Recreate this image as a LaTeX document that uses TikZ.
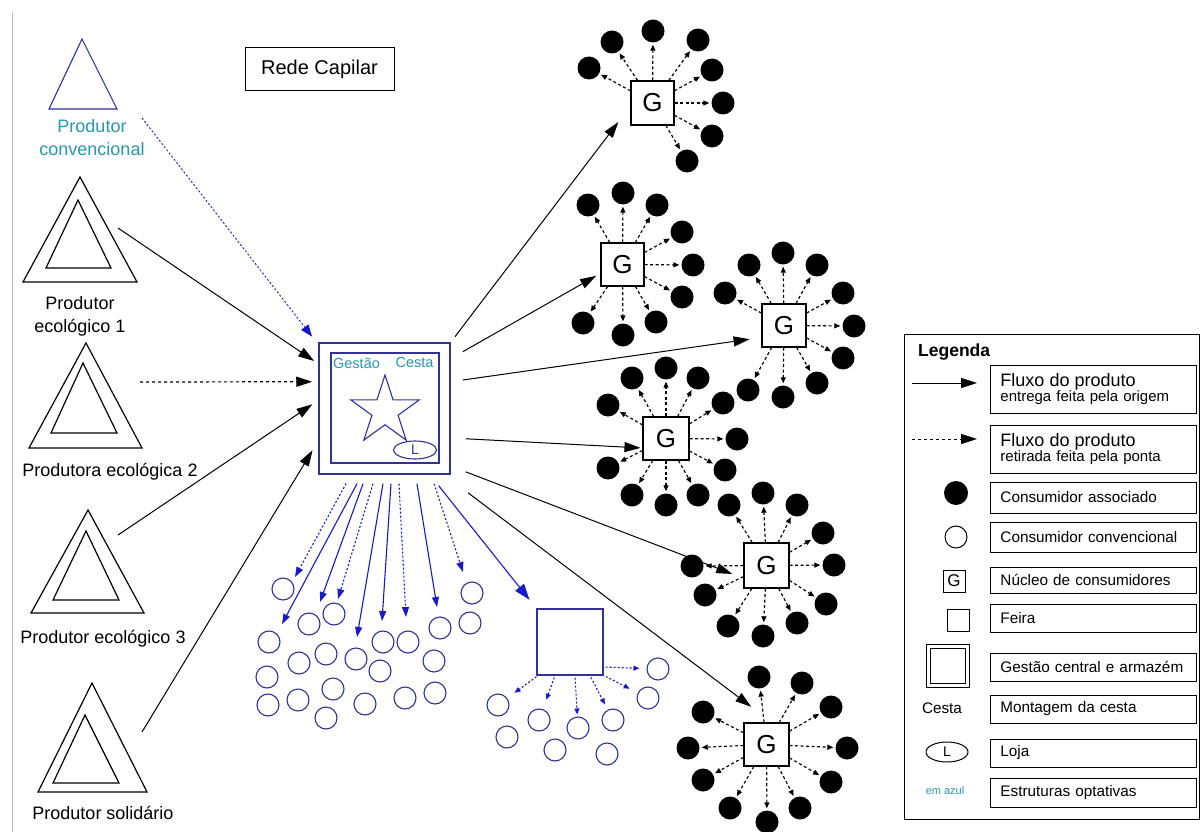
\documentclass[tikz,border=0pt]{standalone}
\usepackage{fontspec}
\setmainfont{Liberation Sans}
\usetikzlibrary{arrows.meta,shapes.geometric}
\definecolor{navyline}{RGB}{50,50,150}
\definecolor{flowblue}{RGB}{25,25,200}
\definecolor{labelteal}{RGB}{40,150,180}
\newcommand\fsz[1]{\fontsize{#1}{#1}\selectfont}

\begin{document}
\begin{tikzpicture}[x=1pt,y=-1pt,
  producer/.style={line width=1.2pt, line join=miter},
  plabel/.style={font=\fontsize{18}{23}\selectfont, align=center, inner sep=0},
  delivery/.style={line width=1pt, -{Triangle[length=16pt,width=10pt]}},
  pickup/.style={delivery, line width=1.2pt, dash pattern=on 3pt off 3pt},
  optdelivery/.style={draw=flowblue, line width=1.1pt, -{Triangle[length=10pt,width=7pt]}},
  optpickup/.style={optdelivery, dash pattern=on 2pt off 2pt},
  nucleus/.style={draw, line width=1.1pt, inner sep=0, font=\fsz{26}},
  member/.style={circle, fill=black, minimum size=23pt, inner sep=0},
  buyer/.style={circle, draw=navyline, line width=1.1pt, minimum size=22pt, inner sep=0},
  gpick/.style={line width=1.15pt, dash pattern=on 3pt off 2.5pt, -{Triangle[length=6pt,width=5pt]}, shorten >=2pt},
  fpick/.style={draw=flowblue, line width=1.1pt, dash pattern=on 2pt off 2pt, -{Triangle[length=6pt,width=5pt]}, shorten <=2pt},
  legbox/.style={draw, line width=0.9pt, anchor=west, minimum width=206pt, text width=186pt, inner xsep=10pt, inner ysep=0pt, align=left, font=\fsz{15.3}},
]
% canvas
\fill[white] (0,0) rectangle (1202,832);
\useasboundingbox (0,0) rectangle (1202,832);
\draw[black!25, line width=1pt] (12,12) -- (12,832);

% title
\node[draw, line width=1pt, minimum width=149pt, minimum height=43pt, inner sep=0, font=\fsz{20}] (title) at (319.5,69.5) {Rede Capilar};

% producers
\draw[producer, draw=navyline, line width=1.1pt] (82,39) -- (117,109) -- (49,109) -- cycle;
\node[plabel, text=labelteal] (lconv) at (92,138) {Produtor\\convencional};

\draw[producer] (80,177) -- (137,282) -- (23,282) -- cycle;
\draw[producer] (78,200) -- (111,268) -- (46,268) -- cycle;
\node[plabel] (leco1) at (80,316) {Produtor\\ecológico 1};

\draw[producer] (86,343) -- (142,448) -- (29,448) -- cycle;
\draw[producer] (83,363) -- (117,433) -- (51,433) -- cycle;
\node[plabel] (leco2) at (110,472) {Produtora ecológica 2};

\draw[producer] (88,510) -- (144,613) -- (31,613) -- cycle;
\draw[producer] (86,531) -- (119,600) -- (53,600) -- cycle;
\node[plabel] (leco3) at (103,639) {Produtor ecológico 3};

\draw[producer] (92,683) -- (147,792) -- (38,792) -- cycle;
\draw[producer] (85,715) -- (119,783) -- (53,783) -- cycle;
\node[plabel] (lsol) at (103,813) {Produtor solidário};

% outlets of the producers
\coordinate (convout) at (142,118);
\coordinate (eco1out) at (118,228);
\coordinate (eco2pick) at (140,382);
\coordinate (eco2out) at (118,535);
\coordinate (solout) at (142,732);

% central management and warehouse
\node[draw=navyline, line width=1.5pt, minimum size=131pt, inner sep=0] (hub) at (384.5,408.5) {};
\node[draw=navyline, line width=1.3pt, minimum width=108pt, minimum height=110pt, inner sep=0] (hubin) at (385,408) {};
\node[text=labelteal, font=\fsz{14.5}, inner sep=0] (lgest) at (356.5,363) {Gestão};
\node[text=labelteal, font=\fsz{14.5}, inner sep=0] (lcesta) at (414.5,363) {Cesta};
\node[star, star points=5, star point ratio=2.618, draw=navyline, line width=1.1pt, minimum size=72pt, inner sep=0] (basket) at (385,411) {};
\node[ellipse, draw=navyline, line width=1.1pt, minimum width=43pt, minimum height=18pt, inner sep=0, text=navyline, font=\fsz{14}] (shop) at (415,450) {L};

% inflow
\draw[optpickup, line width=0.9pt, -{Triangle[length=12pt,width=9pt]}, shorten >=10pt] (convout) -- (hub.136);
\draw[delivery, shorten >=5pt] (eco1out) -- (hub.146);
\draw[pickup, shorten >=6pt] (eco2pick) -- (hub.158);
\draw[delivery, shorten >=7pt] (eco2out) -- (hub.173);
\draw[delivery, shorten >=11pt] (solout) -- (hub.206);

% consumer nuclei
\node[nucleus, minimum width=43pt, minimum height=44pt] (g1) at (652.5,103) {G};
\node[nucleus, minimum width=43pt, minimum height=43pt] (g2) at (622.5,264.5) {G};
\node[nucleus, minimum width=44pt, minimum height=43pt] (g3) at (784,325.5) {G};
\node[nucleus, minimum width=46pt, minimum height=43pt] (g4) at (666,438.5) {G};
\node[nucleus, minimum width=45pt, minimum height=45pt] (g5) at (766.5,565.5) {G};
\node[nucleus, minimum width=45pt, minimum height=43pt] (g6) at (766.5,744.5) {G};

\foreach \x/\y [count=\i] in {612/42,653/31,698/40,712/70,723/103,712/136,687/161,589/68}
  {\node[member] (g1d\i) at (\x,\y) {}; \draw[gpick] (g1) -- (g1d\i);}
\foreach \x/\y [count=\i] in {588/205,623/193,657/205,682/232,693/265,682/297,656/322,623/335,583/323}
  {\node[member] (g2d\i) at (\x,\y) {}; \draw[gpick] (g2) -- (g2d\i);}
\foreach \x/\y [count=\i] in {749/265,783/253,817/265,843/293,854/326,843/358,817/383,783/397,748/390,725/293}
  {\node[member] (g3d\i) at (\x,\y) {}; \draw[gpick] (g3) -- (g3d\i);}
\foreach \x/\y [count=\i] in {666/368,632/378,698/378,608/405,723/403,737/439,725/470,698/495,666/505,632/495,608/468}
  {\node[member] (g4d\i) at (\x,\y) {}; \draw[gpick] (g4) -- (g4d\i);}
\foreach \x/\y [count=\i] in {763/493,797/505,823/533,834/565,826/604,797/623,763/636,728/626,705/595,692/566,729/505}
  {\node[member] (g5d\i) at (\x,\y) {}; \draw[gpick] (g5) -- (g5d\i);}
\foreach \x/\y [count=\i] in {759/677,802/683,831/707,847/748,831/782,800/808,767/822,730/808,703/780,688/748,703/712}
  {\node[member] (g6d\i) at (\x,\y) {}; \draw[gpick] (g6) -- (g6d\i);}

% outflow to the nuclei
\draw[delivery, shorten <=7pt, shorten >=20pt] (hub.45) -- (g1.188);
\draw[delivery, shorten <=14pt, shorten >=5pt] (hub.37) -- (g2.202);
\draw[delivery, shorten <=12pt, shorten >=12pt] (hub.22) -- (g3.208);
\draw[delivery, shorten <=15pt, shorten >=2pt] (hub.336) -- (g4.202);
\draw[delivery, shorten <=16pt, shorten >=12pt] (hub.319) -- (g5.209);
\draw[delivery, shorten <=30pt, shorten >=26pt] (hub.312) -- (g6.76);

% conventional consumers
\foreach \x/\y [count=\i] in {283/589,269/642,309/624,334/614,267/677,299/663,326/654,356/659,383/642,408/642,440/628,472/593,470/623,434/661,380/671,268/705,298/700,333/689,326/718,365/704,405/698,435/693}
  {\node[buyer] (c\i) at (\x,\y) {};}

\coordinate (ta) at (295,577);
\coordinate (tb) at (282,624);
\coordinate (tc) at (320,602);
\coordinate (td) at (338,599);
\coordinate (te) at (357,637);
\coordinate (tf) at (382,621);
\coordinate (tg) at (406,617);
\coordinate (th) at (437,607);
\coordinate (ti) at (463,572);
\draw[optpickup, shorten <=10pt] ([xshift=-33.6pt]hub.south) -- (ta);
\draw[optdelivery, shorten <=10pt] ([xshift=-22.7pt]hub.south) -- (tb);
\draw[optdelivery, shorten <=9.6pt] ([xshift=-18.2pt]hub.south) -- (tc);
\draw[optpickup, shorten <=9.4pt] ([xshift=-8.8pt]hub.south) -- (td);
\draw[optdelivery, shorten <=9pt] ([xshift=0pt]hub.south) -- (te);
\draw[optdelivery, shorten <=9pt] ([xshift=7.1pt]hub.south) -- (tf);
\draw[optpickup, shorten <=9pt] ([xshift=14pt]hub.south) -- (tg);
\draw[optdelivery, shorten <=9pt] ([xshift=31pt]hub.south) -- (th);
\draw[optpickup, shorten <=9.5pt] ([xshift=46.6pt]hub.south) -- (ti);

% fair
\node[draw=navyline, line width=1.2pt, minimum size=66pt, inner sep=0] (feira) at (570,642) {};
\draw[optdelivery, -{Triangle[length=16pt,width=11pt]}, shorten <=14pt, shorten >=11pt] ([xshift=45.4pt]hub.south) -- (feira.north west);
\foreach \x/\y [count=\i] in {498/705,507/737,539/720,555/750,578/728,607/754,613/720,648/698,658/669}
  {\node[buyer] (fc\i) at (\x,\y) {};}
\draw[fpick, shorten >=9pt] ([xshift=-32pt]feira.south) -- (fc1);
\draw[fpick, shorten >=10pt] ([xshift=-15pt]feira.south) -- (fc3);
\draw[fpick, shorten >=2pt] ([xshift=5pt]feira.south) -- (fc5);
\draw[fpick, shorten >=6pt] ([xshift=20pt]feira.south) -- (fc7);
\draw[fpick, shorten >=9pt] ([xshift=34pt]feira.south) -- (fc8);
\draw[fpick, shorten >=7pt] ([yshift=-25pt]feira.east) -- (fc9);

% legend
\node[draw, line width=1pt, minimum width=295pt, minimum height=485pt, inner sep=0, anchor=north west] (legend) at (904,334) {};
\node[anchor=west, inner sep=0, font=\bfseries\fsz{17.5}] (legtitle) at (918,352) {Legenda};

\node[legbox, minimum height=48pt] (lb1) at (990,389) {{\fsz{18}Fluxo do produto}\\[-1pt]{\fontsize{15}{15}\selectfont entrega feita pela origem}};
\node[legbox, minimum height=48pt] (lb2) at (990,449) {{\fsz{18}Fluxo do produto}\\[-1pt]{\fontsize{15}{15}\selectfont retirada feita pela ponta}};
\node[legbox, minimum height=31pt] (lb3) at (990,497.5) {Consumidor associado};
\node[legbox, minimum height=30pt] (lb4) at (990,537) {Consumidor convencional};
\node[legbox, minimum height=26pt] (lb5) at (990,580) {Núcleo de consumidores};
\node[legbox, minimum height=28pt] (lb6) at (990,618) {Feira};
\node[legbox, minimum height=28pt] (lb7) at (990,667) {Gestão central e armazém};
\node[legbox, minimum height=28pt] (lb8) at (990,709) {Montagem da cesta};
\node[legbox, minimum height=28pt] (lb9) at (990,753) {Loja};
\node[legbox, minimum height=29pt] (lb10) at (990,792.5) {Estruturas optativas};

\coordinate (ls1) at (912,383);
\coordinate (le1) at (977,383);
\coordinate (ls2) at (912,439);
\coordinate (le2) at (977,439);
\draw[delivery] (ls1) -- (le1);
\draw[pickup, line width=1pt] (ls2) -- (le2);
\node[member, minimum size=24pt] (lmember) at (956,493) {};
\node[circle, draw, line width=1pt, minimum size=22pt, inner sep=0] (lbuyer) at (956,537) {};
\node[draw, line width=1pt, minimum size=22pt, inner sep=0, font=\fsz{17}] (lnucleus) at (954,581) {G};
\node[draw, line width=1pt, minimum size=22pt, inner sep=0] (lfair) at (958,620) {};
\node[draw, line width=1pt, minimum size=43pt, inner sep=0] (lhub) at (947.5,666) {};
\node[draw, line width=1pt, minimum size=35pt, inner sep=0] (lhubin) at (947.5,666) {};
\node[inner sep=0, font=\fsz{15.3}] (lcestasym) at (942,708) {Cesta};
\node[ellipse, draw, line width=1pt, minimum width=42pt, minimum height=20pt, inner sep=0, font=\fsz{14}] (lshop) at (947,752) {L};
\node[inner sep=0, text=labelteal, font=\fsz{11}] (lblue) at (945,791) {em azul};
\end{tikzpicture}
\end{document}
